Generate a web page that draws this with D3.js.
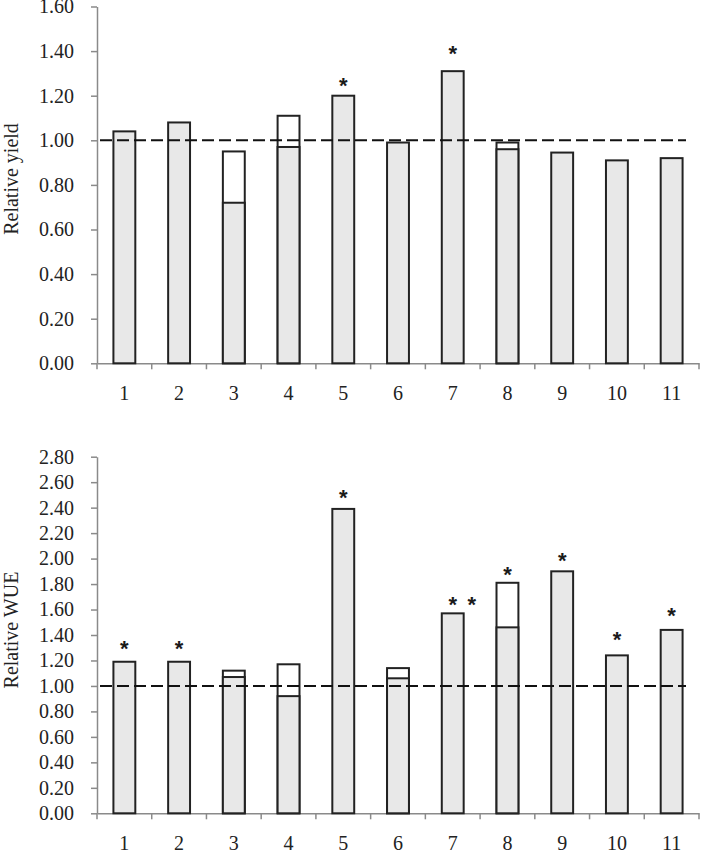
<!DOCTYPE html>
<html>
<head>
<meta charset="utf-8">
<script src="https://cdn.jsdelivr.net/npm/d3@7"></script>
<style>
  body { margin: 0; background: #fff; }
  svg text { font-family: "Liberation Serif", "Times New Roman", serif; }
</style>
</head>
<body>
<svg id="chart" width="702" height="853"></svg>
<script>
// categories
var categories = ['1', '2', '3', '4', '5', '6', '7', '8', '9', '10', '11'];

// relative yield: gray bar and white (outlined) bar behind it
var yieldGray  = [1.04, 1.08, 0.72, 0.97, 1.20, 0.99, 1.31, 0.96, 0.945, 0.91, 0.92];
var yieldWhite = [null, null, 0.95, 1.11, null, null, null, 0.99, null, null, null];
var yieldSig   = ['', '', '', '', '*', '', '*', '', '', '', ''];
var yieldSigAt = [null, null, null, null, 1.27, null, 1.415, null, null, null, null];
var yieldTicks = [0, 0.2, 0.4, 0.6, 0.8, 1.0, 1.2, 1.4, 1.6];

// relative WUE
var wueGray  = [1.19, 1.19, 1.07, 0.92, 2.39, 1.06, 1.57, 1.46, 1.90, 1.24, 1.44];
var wueWhite = [null, null, 1.12, 1.17, null, 1.14, null, 1.81, null, null, null];
var wueSig   = ['*', '*', '', '', '*', '', '* *', '*', '*', '*', '*'];
var wueSigAt = [1.34, 1.34, null, null, 2.52, null, 1.68, 1.915, 2.03, 1.41, 1.60];
var wueTicks = [0, 0.2, 0.4, 0.6, 0.8, 1.0, 1.2, 1.4, 1.6, 1.8, 2.0, 2.2, 2.4, 2.6, 2.8];

var svg = d3.select('#chart');

// x scale shared by both panels
var x = d3.scaleBand()
  .domain(categories)
  .range([97, 699])
  .padding(0);
var barW = x.bandwidth() * 0.4;

function drawPanel(opt) {
  var y = d3.scaleLinear()
    .domain([0, opt.max])
    .range([opt.bottom, opt.top]);

  var g = svg.append('g');

  // y axis
  var yAxis = g.append('g')
    .attr('transform', 'translate(' + x.range()[0] + ',0)')
    .call(d3.axisLeft(y).tickValues(opt.ticks).tickSizeInner(6).tickSizeOuter(0)
      .tickPadding(17).tickFormat(d3.format('.2f')));

  // x axis (labels only, tick marks between categories drawn below)
  var xAxis = g.append('g')
    .attr('transform', 'translate(0,' + opt.bottom + ')')
    .call(d3.axisBottom(x).tickSizeInner(0).tickSizeOuter(0).tickPadding(23));

  [yAxis, xAxis].forEach(function(a) {
    a.select('.domain').attr('stroke', '#8a8a8a').attr('stroke-width', 1.5);
    a.selectAll('.tick line').attr('stroke', '#8a8a8a').attr('stroke-width', 1.5);
    a.selectAll('.tick text').attr('font-size', 20).attr('fill', '#222')
      .style('font-family', '"Liberation Serif", serif');
  });

  var bounds = categories.map(function(c) { return x(c); }).concat([x.range()[1]]);
  g.selectAll('.xtick')
    .data(bounds)
    .enter().append('line')
    .attr('x1', function(d) { return d; })
    .attr('x2', function(d) { return d; })
    .attr('y1', opt.bottom)
    .attr('y2', opt.bottom + 6)
    .attr('stroke', '#8a8a8a')
    .attr('stroke-width', 1.5);

  function barX(c) { return x(c) + (x.bandwidth() - barW) / 2; }

  // white bars behind
  g.selectAll('.bar-white')
    .data(categories.filter(function(c, i) { return opt.white[i] != null; }))
    .enter().append('rect')
    .attr('x', barX)
    .attr('width', barW)
    .attr('y', function(c) { return y(opt.white[categories.indexOf(c)]); })
    .attr('height', function(c) { return opt.bottom - y(opt.white[categories.indexOf(c)]); })
    .attr('fill', '#fff')
    .attr('stroke', '#222')
    .attr('stroke-width', 2);

  // gray bars
  g.selectAll('.bar-gray')
    .data(categories)
    .enter().append('rect')
    .attr('x', barX)
    .attr('width', barW)
    .attr('y', function(c, i) { return y(opt.gray[i]); })
    .attr('height', function(c, i) { return opt.bottom - y(opt.gray[i]); })
    .attr('fill', '#e8e8e8')
    .attr('stroke', '#222')
    .attr('stroke-width', 2);

  // dashed reference line at 1.00
  g.append('line')
    .attr('x1', x.range()[0] + 3)
    .attr('x2', x.range()[1] - 13)
    .attr('y1', y(1))
    .attr('y2', y(1))
    .attr('stroke', '#111')
    .attr('stroke-width', 2)
    .attr('stroke-dasharray', '12,5');

  // significance asterisks
  categories.forEach(function(c, i) {
    if (!opt.sig[i]) return;
    opt.sig[i].split(' ').forEach(function(s, k) {
      g.append('text')
        .attr('x', x(c) + x.bandwidth() / 2 + k * 19)
        .attr('y', y(opt.sigAt[i]) + 13)
        .attr('text-anchor', 'middle')
        .attr('font-size', 22)
        .attr('font-weight', 'bold')
        .attr('fill', '#1a1a1a')
        .style('font-family', '"Liberation Sans", Arial, sans-serif')
        .text(s);
    });
  });

  // y axis title
  g.append('text')
    .attr('transform', 'translate(18,' + opt.titleY + ') rotate(-90)')
    .attr('text-anchor', 'middle')
    .attr('font-size', 20)
    .attr('fill', '#222')
    .text(opt.title);
}

drawPanel({
  max: 1.6, top: 6.5, bottom: 363.3, ticks: yieldTicks,
  gray: yieldGray, white: yieldWhite, sig: yieldSig, sigAt: yieldSigAt,
  title: 'Relative yield', titleY: 179
});

drawPanel({
  max: 2.8, top: 456.7, bottom: 813.3, ticks: wueTicks,
  gray: wueGray, white: wueWhite, sig: wueSig, sigAt: wueSigAt,
  title: 'Relative WUE', titleY: 630
});
</script>
</body>
</html>
